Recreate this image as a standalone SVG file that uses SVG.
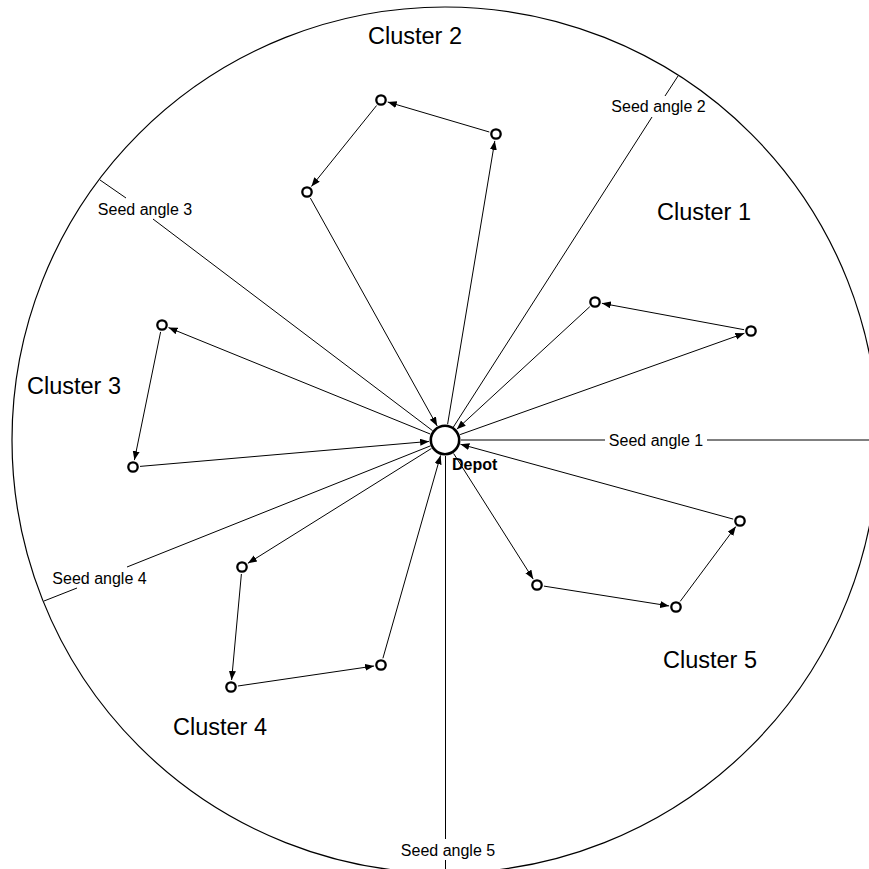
<svg xmlns="http://www.w3.org/2000/svg" width="869" height="869" viewBox="0 0 869 869">
<style>
.bg{fill:#fff}
.ring{fill:none;stroke:#000;stroke-width:1.2}
.node{fill:#fff;stroke:#000;stroke-width:2.3}
.depot{fill:#fff;stroke:#000;stroke-width:2.6}
.edge{stroke:#000;stroke-width:1;fill:none;marker-end:url(#ah)}
.seed{stroke:#000;stroke-width:1;fill:none}
.cl{font-family:"Liberation Sans",Arial,sans-serif;font-size:23.5px;fill:#000}
.sl{font-family:"Liberation Sans",Arial,sans-serif;font-size:16px;fill:#000;text-anchor:middle}
.dl{font-family:"Liberation Sans",Arial,sans-serif;font-size:16px;font-weight:bold;fill:#000}
</style>
<defs>
<marker id="ah" markerUnits="userSpaceOnUse" markerWidth="10" markerHeight="8" refX="9" refY="3.5" orient="auto">
<path d="M0,0 L9,3.5 L0,7 z" fill="#000"/>
</marker>
</defs>
<rect class="bg" x="0" y="0" width="869" height="869"/>
<circle class="ring" cx="445" cy="440" r="433"/>
<g id="seeds">
<line class="seed" x1="461" y1="440" x2="605" y2="440"/>
<line class="seed" x1="707" y1="440" x2="869" y2="440"/>
<line class="seed" x1="453.4" y1="427" x2="652" y2="117"/>
<line class="seed" x1="665" y1="96" x2="678" y2="76"/>
<line class="seed" x1="432.6" y1="430.7" x2="153" y2="219"/>
<line class="seed" x1="126" y1="198" x2="100" y2="180"/>
<line class="seed" x1="430.6" y1="445.8" x2="127" y2="567"/>
<line class="seed" x1="77" y1="588" x2="44" y2="601"/>
<line class="seed" x1="445.5" y1="456" x2="445.5" y2="839"/>
<line class="seed" x1="445.5" y1="860" x2="445.5" y2="869"/>
<text class="sl" x="656" y="446">Seed angle 1</text>
<text class="sl" x="658.5" y="112">Seed angle 2</text>
<text class="sl" x="145" y="215">Seed angle 3</text>
<text class="sl" x="99.5" y="584">Seed angle 4</text>
<text class="sl" x="448" y="856">Seed angle 5</text>
</g>
<g id="connectors">
<line class="edge" x1="460.1" y1="434.6" x2="744.4" y2="333.3"/>
<line class="edge" x1="744.1" y1="329.7" x2="601.9" y2="303.3"/>
<line class="edge" x1="589.8" y1="306.7" x2="456.8" y2="429.2"/>
<line class="edge" x1="447.6" y1="424.2" x2="494.8" y2="140.9"/>
<line class="edge" x1="489.3" y1="132" x2="387.7" y2="102"/>
<line class="edge" x1="376.6" y1="105.5" x2="311.4" y2="186.5"/>
<line class="edge" x1="310.4" y1="198.1" x2="437.2" y2="426"/>
<line class="edge" x1="430.2" y1="434" x2="168.5" y2="327.6"/>
<line class="edge" x1="160.6" y1="331.9" x2="134.4" y2="460.1"/>
<line class="edge" x1="140" y1="466.4" x2="429.1" y2="441.4"/>
<line class="edge" x1="431.4" y1="448.5" x2="247.9" y2="563.3"/>
<line class="edge" x1="241.4" y1="574" x2="231.6" y2="680"/>
<line class="edge" x1="237.9" y1="686" x2="374.1" y2="666"/>
<line class="edge" x1="382.9" y1="658.3" x2="440.6" y2="455.4"/>
<line class="edge" x1="453.6" y1="453.5" x2="533.2" y2="579.1"/>
<line class="edge" x1="543.9" y1="586.1" x2="669.1" y2="605.9"/>
<line class="edge" x1="680.2" y1="601.4" x2="735.8" y2="526.6"/>
<line class="edge" x1="733.2" y1="519.1" x2="460.4" y2="444.2"/>
</g>
<g id="depot">
<circle class="depot" cx="445" cy="440" r="14.2"/>
<text class="dl" x="452" y="470">Depot</text>
</g>
<g id="cluster1">
<circle class="node" cx="595" cy="302" r="4.7"/>
<circle class="node" cx="751" cy="331" r="4.7"/>
<text class="cl" x="657" y="220">Cluster 1</text>
</g>
<g id="cluster2">
<circle class="node" cx="381" cy="100" r="4.7"/>
<circle class="node" cx="496" cy="134" r="4.7"/>
<circle class="node" cx="307" cy="192" r="4.7"/>
<text class="cl" x="368" y="44">Cluster 2</text>
</g>
<g id="cluster3">
<circle class="node" cx="162" cy="325" r="4.7"/>
<circle class="node" cx="133" cy="467" r="4.7"/>
<text class="cl" x="27" y="394">Cluster 3</text>
</g>
<g id="cluster4">
<circle class="node" cx="242" cy="567" r="4.7"/>
<circle class="node" cx="231" cy="687" r="4.7"/>
<circle class="node" cx="381" cy="665" r="4.7"/>
<text class="cl" x="173" y="735">Cluster 4</text>
</g>
<g id="cluster5">
<circle class="node" cx="740" cy="521" r="4.7"/>
<circle class="node" cx="676" cy="607" r="4.7"/>
<circle class="node" cx="537" cy="585" r="4.7"/>
<text class="cl" x="663" y="668">Cluster 5</text>
</g>
</svg>
